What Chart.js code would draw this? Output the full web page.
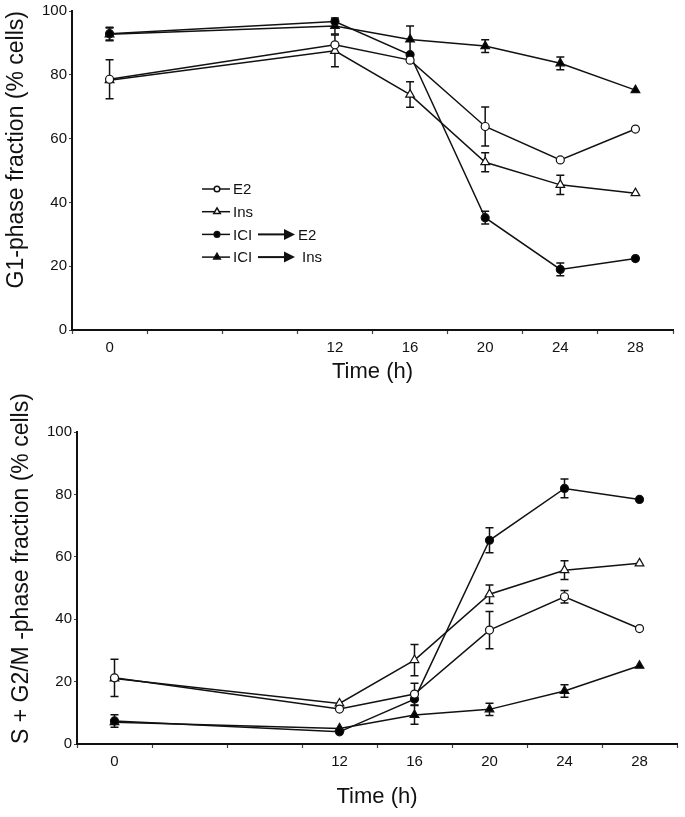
<!DOCTYPE html>
<html>
<head>
<meta charset="utf-8">
<script src="https://cdn.jsdelivr.net/npm/chart.js@4.4.1/dist/chart.umd.min.js"></script>
<style>
  html, body { margin: 0; padding: 0; background: #fff; }
  .panel { position: absolute; left: 0; width: 685px; }
  #g1Wrap { top: 0; height: 390px; }
  #sg2Wrap { top: 390px; height: 427px; }
</style>
</head>
<body>
<div class="panel" id="g1Wrap"><canvas id="g1Chart" width="685" height="390"></canvas></div>
<div class="panel" id="sg2Wrap"><canvas id="sg2Chart" width="685" height="427"></canvas></div>
<script>
// time points (h) and the ones that get a label
const times = [0, 12, 16, 20, 24, 28];
const tickLabels = [0, 12, 16, 20, 24, 28];
const yTicks = [0, 20, 40, 60, 80, 100];

const seriesNames = ['E2', 'Ins', 'ICI → E2', 'ICI → Ins'];

// G1-phase fraction (% cells)
const g1E2 = [78.6, 89.4, 84.6, 63.8, 53.3, 63.0];
const g1E2Err = [6.1, 0, 0, 6.1, 0, 0];
const g1Ins = [78.3, 87.5, 73.8, 52.6, 45.5, 42.9];
const g1InsErr = [0, 5, 4, 3, 3, 0];
const g1IciE2 = [92.9, 96.7, 86.3, 35.2, 19.0, 22.4];
const g1IciE2Err = [2, 0, 0, 2, 2, 0];
const g1IciIns = [92.7, 95.3, 91.1, 89.0, 83.6, 75.2];
const g1IciInsErr = [2, 2.5, 4.2, 2, 2, 0];

// S + G2/M -phase fraction (% cells)
const sgE2 = [21.2, 11.2, 16.0, 36.5, 47.2, 37.0];
const sgE2Err = [6, 0, 3.5, 6, 2, 0];
const sgIns = [21.0, 13.0, 26.9, 48.0, 55.7, 57.9];
const sgInsErr = [0, 0, 5, 3, 3, 0];
const sgIciE2 = [7.4, 3.9, 14.4, 65.3, 81.9, 78.4];
const sgIciE2Err = [2, 0, 0, 4, 3, 0];
const sgIciIns = [7.0, 5.0, 9.3, 11.1, 17.0, 25.1];
const sgIciInsErr = [0, 0, 3, 2, 2, 0];

Chart.defaults.font.family = '"Liberation Sans", Arial, sans-serif';
Chart.defaults.color = '#111';

const styles = [
  { pointStyle: 'circle', fill: '#fff', r: 4 },
  { pointStyle: 'triangle', fill: '#fff', r: 5 },
  { pointStyle: 'circle', fill: '#000', r: 4 },
  { pointStyle: 'triangle', fill: '#000', r: 5 }
];

function makeDatasets(values, errors) {
  return values.map((vals, k) => ({
    label: seriesNames[k],
    data: times.map((t, i) => ({ x: t, y: vals[i] })),
    errors: errors[k],
    borderColor: '#111',
    borderWidth: 1.5,
    pointStyle: styles[k].pointStyle,
    pointRadius: styles[k].r,
    pointBackgroundColor: styles[k].fill,
    pointBorderColor: '#111',
    pointBorderWidth: 1.2,
    tension: 0
  }));
}

// vertical error bars with small caps, drawn under the lines
const errorBars = {
  id: 'errorBars',
  beforeDatasetsDraw(chart) {
    const { ctx, scales: { x, y } } = chart;
    ctx.save();
    ctx.strokeStyle = '#111';
    ctx.lineWidth = 1.5;
    chart.data.datasets.forEach(ds => {
      (ds.errors || []).forEach((e, i) => {
        if (!e) return;
        const px = x.getPixelForValue(ds.data[i].x);
        const top = y.getPixelForValue(ds.data[i].y + e);
        const bot = y.getPixelForValue(ds.data[i].y - e);
        ctx.beginPath();
        ctx.moveTo(px, top); ctx.lineTo(px, bot);
        ctx.moveTo(px - 4, top); ctx.lineTo(px + 4, top);
        ctx.moveTo(px - 4, bot); ctx.lineTo(px + 4, bot);
        ctx.stroke();
      });
    });
    ctx.restore();
  }
};

function drawMarker(ctx, style, fill, x, y, r) {
  ctx.beginPath();
  if (style === 'circle') {
    ctx.arc(x, y, r, 0, Math.PI * 2);
  } else {
    ctx.moveTo(x, y - r);
    ctx.lineTo(x + r * 0.866, y + r * 0.5);
    ctx.lineTo(x - r * 0.866, y + r * 0.5);
    ctx.closePath();
  }
  ctx.fillStyle = fill;
  ctx.fill();
  ctx.stroke();
}

// legend inside the G1 panel, arrows drawn for the "ICI → x" labels
const arrowLegend = {
  id: 'arrowLegend',
  afterDraw(chart, args, opts) {
    if (!opts.show) return;
    const ctx = chart.ctx;
    ctx.save();
    ctx.font = '15px "Liberation Sans", Arial, sans-serif';
    ctx.textBaseline = 'middle';
    ctx.strokeStyle = '#111';
    ctx.lineWidth = 1.5;
    chart.data.datasets.forEach((ds, i) => {
      const y = opts.y + i * opts.gap;
      const x0 = opts.x;
      ctx.beginPath();
      ctx.moveTo(x0, y); ctx.lineTo(x0 + 28, y);
      ctx.stroke();
      drawMarker(ctx, styles[i].pointStyle, styles[i].fill, x0 + 15, y, styles[i].r - 1.2);
      const parts = ds.label.split('→').map(s => s.trim());
      ctx.fillStyle = '#111';
      ctx.fillText(parts[0], x0 + 31, y + 1);
      if (parts.length > 1) {
        const ax = x0 + 56, bx = x0 + 93;
        ctx.lineWidth = 2;
        ctx.beginPath();
        ctx.moveTo(ax, y); ctx.lineTo(bx - 8, y);
        ctx.stroke();
        ctx.beginPath();
        ctx.moveTo(bx - 11, y - 5.5);
        ctx.lineTo(bx, y);
        ctx.lineTo(bx - 11, y + 5.5);
        ctx.closePath();
        ctx.fill();
        ctx.lineWidth = 1.5;
        ctx.fillText(parts[1], bx + (parts[1] === 'Ins' ? 7 : 3), y + 1);
      }
    });
    ctx.restore();
  }
};

function makeChart(id, datasets, p) {
  return new Chart(document.getElementById(id), {
    type: 'line',
    data: { datasets },
    plugins: [errorBars, arrowLegend],
    options: {
      responsive: false,
      animation: false,
      layout: { padding: { top: p.top, right: p.right, left: 0, bottom: 0 } },
      plugins: {
        legend: { display: false },
        tooltip: { enabled: false },
        arrowLegend: p.legend
      },
      scales: {
        x: {
          type: 'linear',
          min: -2,
          max: 30,
          afterBuildTicks: s => {
            s.ticks = [];
            for (let v = -2; v <= 30; v += 2) s.ticks.push({ value: v });
          },
          afterFit: s => { s.height = p.xHeight; },
          ticks: {
            autoSkip: false,
            maxRotation: 0,
            padding: 5,
            font: { size: 15 },
            callback: v => tickLabels.includes(v) ? String(v) : ''
          },
          grid: {
            drawOnChartArea: false,
            tickLength: 4,
            tickWidth: 1.2,
            tickColor: c => ((c.tick.value + 2) % 4 === 0 ? '#444' : 'rgba(0,0,0,0)')
          },
          border: { color: '#111', width: 2 },
          title: {
            display: true,
            text: 'Time (h)',
            font: { size: 22 },
            padding: { top: 0, bottom: p.xTitlePad }
          }
        },
        y: {
          min: 0,
          max: 100,
          afterBuildTicks: s => { s.ticks = yTicks.map(v => ({ value: v })); },
          afterFit: s => { s.width = p.yWidth; },
          ticks: { padding: 2, font: { size: 15 } },
          grid: { drawOnChartArea: false, tickLength: 3, tickColor: '#444' },
          border: { color: '#111', width: 2 },
          title: {
            display: true,
            text: p.yTitle,
            align: p.yAlign,
            font: { size: 23 },
            padding: { top: p.yTitlePad, bottom: 0 }
          }
        }
      }
    }
  });
}

makeChart('g1Chart',
  makeDatasets([g1E2, g1Ins, g1IciE2, g1IciIns], [g1E2Err, g1InsErr, g1IciE2Err, g1IciInsErr]),
  { top: 10, right: 12, xHeight: 60, yWidth: 72, xTitlePad: 5, yTitlePad: 3,
    yTitle: 'G1-phase fraction (% cells)', yAlign: 'end',
    legend: { show: true, x: 202, y: 189, gap: 22.7 } });

makeChart('sg2Chart',
  makeDatasets([sgE2, sgIns, sgIciE2, sgIciIns], [sgE2Err, sgInsErr, sgIciE2Err, sgIciInsErr]),
  { top: 42, right: 8, xHeight: 73, yWidth: 77, xTitlePad: 7, yTitlePad: 8,
    yTitle: 'S + G2/M -phase fraction (% cells)', yAlign: 'start',
    legend: { show: false } });
</script>
</body>
</html>
